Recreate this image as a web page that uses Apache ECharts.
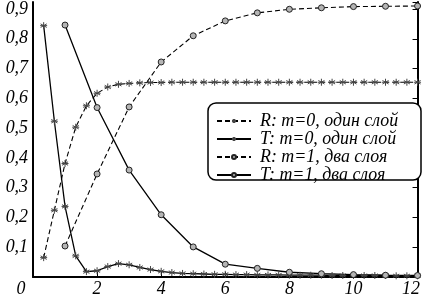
<!DOCTYPE html>
<html><head><meta charset="utf-8">
<script src="https://cdn.jsdelivr.net/npm/echarts@6/dist/echarts.min.js"></script>
<style>html,body{margin:0;padding:0;background:#fff}#c{width:423px;height:298px}</style>
</head><body><div id="c"></div>
<script>
// x positions of the step-1/3 series (stars)
const xStar = [0.333,0.667,1.0,1.333,1.667,2.0,2.333,2.667,3.0,3.333,3.667,4.0,
  4.333,4.667,5.0,5.333,5.667,6.0,6.333,6.667,7.0,7.333,7.667,8.0,
  8.333,8.667,9.0,9.333,9.667,10.0,10.333,10.667,11.0,11.333,11.667,12.0];
const R0 = [0.065,0.224,0.381,0.503,0.575,0.617,0.638,0.647,0.650,0.652,0.653,0.653,
  0.654,0.654,0.654,0.654,0.654,0.654,0.654,0.654,0.654,0.654,0.654,0.654,
  0.654,0.654,0.654,0.654,0.654,0.654,0.654,0.654,0.654,0.654,0.654,0.654];
const T0 = [0.844,0.523,0.237,0.071,0.018,0.021,0.035,0.045,0.041,0.032,0.025,0.019,
  0.015,0.012,0.011,0.010,0.009,0.009,0.008,0.008,0.007,0.007,0.007,0.006,
  0.006,0.006,0.006,0.005,0.005,0.005,0.005,0.005,0.005,0.004,0.004,0.004];
// x positions of the circle series
const xCirc = [1,2,3,4,5,6,7,8,9,10,11,12];
const R1 = [0.104,0.346,0.571,0.722,0.810,0.860,0.887,0.899,0.904,0.908,0.909,0.910];
const T1 = [0.846,0.569,0.359,0.209,0.101,0.043,0.029,0.016,0.011,0.008,0.006,0.005];
const names = ['R: m=0, один слой','T: m=0, один слой','R: m=1, два слоя','T: m=1, два слоя'];
const xTicks = [0,2,4,6,8,10,12];

const FONT = 'Liberation Serif';
const FS = 17.9;
const star = 'path://M5,0L5,10M0.67,2.5L9.33,7.5M0.67,7.5L9.33,2.5M0,5L10,5';
const pairs = (xs, ys) => xs.map((x, i) => [x, ys[i]]);

const chart = echarts.init(document.getElementById('c'), null, {renderer: 'canvas'});
const starStyle = {color: '#555', borderColor: '#444', borderWidth: 1};
const circStyle = {color: '#b5b5b5', borderColor: '#222', borderWidth: 1};
chart.setOption({
  animation: false,
  backgroundColor: '#fff',
  grid: {left: 33, right: 5, top: 0, bottom: 20},
  xAxis: {
    type: 'value', min: 0, max: 12, interval: 2,
    axisLine: {show: true, lineStyle: {color: '#000', width: 2}},
    axisTick: {show: true, inside: true, length: 5, lineStyle: {color: '#000', width: 1}},
    splitLine: {show: false},
    axisLabel: {
      color: '#000', fontFamily: FONT, fontStyle: 'italic', fontSize: FS, margin: 3,
      formatter: v => v === xTicks[0] ? '{z|0}' : (v === xTicks[xTicks.length - 1] ? '{r|' + v + '}' : String(v)),
      rich: {
        z: {color: '#000', fontFamily: FONT, fontStyle: 'italic', fontSize: FS, padding: [0, 24, 0, 0]},
        r: {color: '#000', fontFamily: FONT, fontStyle: 'italic', fontSize: FS, padding: [0, 13, 0, 0]}
      }
    }
  },
  yAxis: [{
    type: 'value', min: 0, max: 0.9236, interval: 0.1,
    axisLine: {show: true, lineStyle: {color: '#000', width: 2}},
    axisTick: {show: false},
    splitLine: {show: false},
    axisLabel: {
      color: '#000', fontFamily: FONT, fontStyle: 'italic', fontSize: FS, margin: 5,
      showMinLabel: false, showMaxLabel: false,
      formatter: v => v.toFixed(1).replace('.', ',')
    }
  }, {
    type: 'value', min: 0, max: 0.9236, interval: 0.1, position: 'right',
    axisLine: {show: true, lineStyle: {color: '#000', width: 2}},
    axisTick: {show: true, inside: true, length: 5, lineStyle: {color: '#000', width: 1}},
    axisLabel: {show: false},
    splitLine: {show: false}
  }],
  graphic: [{
    type: 'rect', z: 3,
    shape: {x: 208, y: 103, width: 213, height: 77, r: 8},
    style: {fill: '#fff', stroke: '#000', lineWidth: 1.5}
  }],
  legend: {
    orient: 'vertical', left: 216, top: 112, z: 5,
    itemWidth: 34, itemHeight: 5, itemGap: 0,
    padding: 0,
    data: names,
    textStyle: {fontFamily: FONT, fontStyle: 'italic', fontSize: FS, color: '#000', lineHeight: 16, padding: [0, 0, 0, 4]}
  },
  series: [
    {name: names[0], type: 'line', data: pairs(xStar, R0), symbol: star, symbolSize: 7,
     lineStyle: {color: '#000', width: 1.1, type: [5, 3]}, itemStyle: starStyle},
    {name: names[1], type: 'line', data: pairs(xStar, T0), symbol: star, symbolSize: 7,
     lineStyle: {color: '#000', width: 1.3, type: 'solid'}, itemStyle: starStyle},
    {name: names[2], type: 'line', data: pairs(xCirc, R1), symbol: 'circle', symbolSize: 6,
     lineStyle: {color: '#000', width: 1.1, type: [5, 3]}, itemStyle: circStyle},
    {name: names[3], type: 'line', data: pairs(xCirc, T1), symbol: 'circle', symbolSize: 6,
     lineStyle: {color: '#000', width: 1.3, type: 'solid'}, itemStyle: circStyle}
  ]
});
</script></body></html>
